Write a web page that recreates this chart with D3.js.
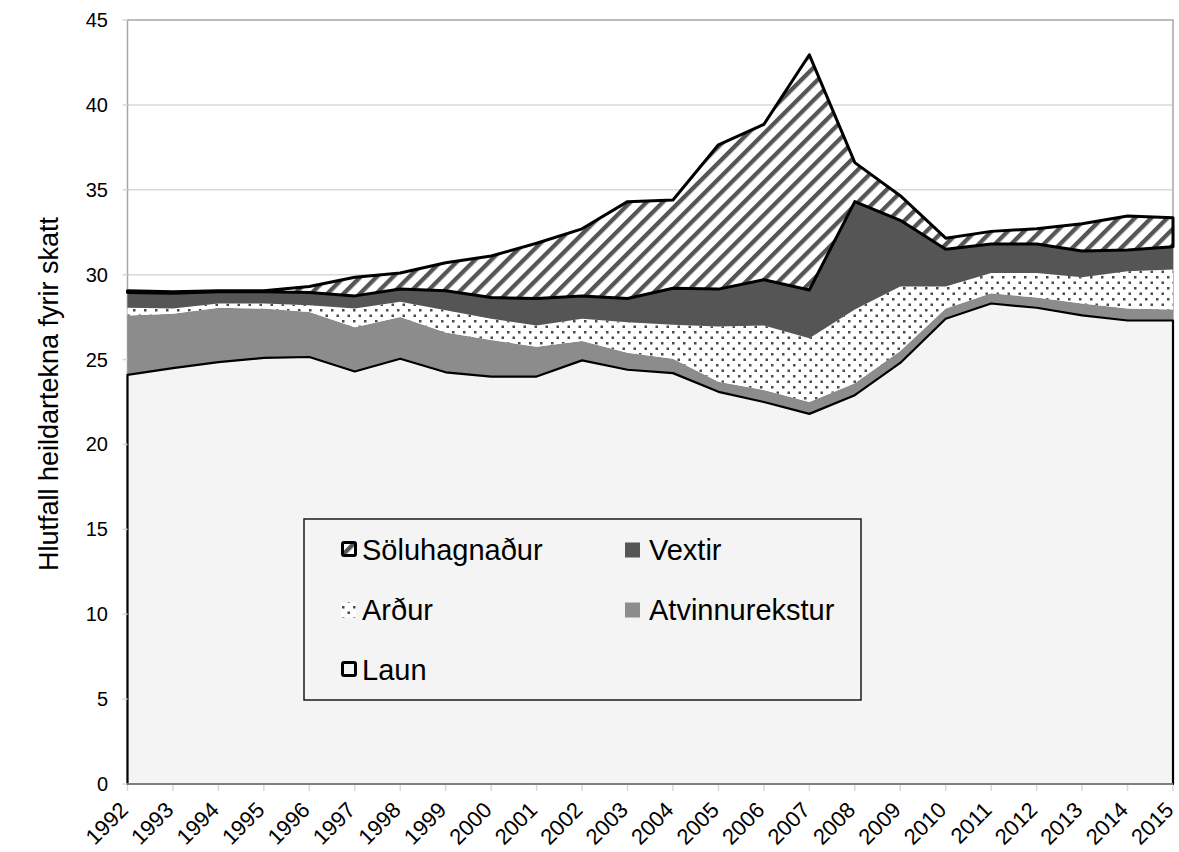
<!DOCTYPE html>
<html>
<head>
<meta charset="utf-8">
<script src="https://cdn.jsdelivr.net/npm/d3@7"></script>
<style>
  body { margin: 0; background: #fff; }
  svg text { font-family: "Liberation Sans", Arial, sans-serif; fill: #000; }
</style>
</head>
<body>
<div id="chart"></div>
<script>
var width = 1179;
var height = 852;
var marginleft = 127.5;
var marginright = 6;
var margintop = 20;
var marginbottom = 68;

// data
var years = [1992,1993,1994,1995,1996,1997,1998,1999,2000,2001,2002,2003,
             2004,2005,2006,2007,2008,2009,2010,2011,2012,2013,2014,2015];
var laun = [24.1,24.5,24.85,25.1,25.15,24.3,25.05,24.25,24.0,24.0,24.95,24.4,
            24.2,23.1,22.5,21.8,22.9,24.8,27.4,28.3,28.05,27.6,27.3,27.3];
var atvinnurekstur = [3.5,3.2,3.2,2.9,2.65,2.6,2.45,2.35,2.15,1.75,1.15,1.0,
                      0.85,0.6,0.7,0.7,0.7,0.7,0.6,0.6,0.6,0.7,0.7,0.65];
var ardur = [0.45,0.3,0.25,0.3,0.4,1.1,0.9,1.3,1.25,1.25,1.3,1.8,
             2.0,3.25,3.8,3.75,4.35,3.8,1.3,1.2,1.45,1.55,2.2,2.35];
var vextir = [0.9,0.9,0.7,0.7,0.75,0.75,0.75,1.15,1.25,1.6,1.35,1.4,
              2.15,2.2,2.7,2.85,6.35,3.9,2.2,1.7,1.7,1.55,1.25,1.35];
var soluhagnadur = [0.1,0.1,0.05,0.05,0.35,1.1,0.95,1.65,2.45,3.25,3.95,5.7,
                    5.2,8.5,9.15,13.85,2.3,1.45,0.65,0.75,0.9,1.6,2.0,1.7];
var yTicks = [0,5,10,15,20,25,30,35,40,45];
var seriesNames = ["Laun","Atvinnurekstur","Arður","Vextir","Söluhagnaður"];
var yTitle = "Hlutfall heildartekna fyrir skatt";

var rows = years.map(function(y, i) {
  return { year: y, "Laun": laun[i], "Atvinnurekstur": atvinnurekstur[i],
           "Arður": ardur[i], "Vextir": vextir[i], "Söluhagnaður": soluhagnadur[i] };
});

var svg = d3.select("#chart").append("svg")
    .attr("width", width)
    .attr("height", height);

var defs = svg.append("defs");
// diagonal stripes for Söluhagnaður
var stripes = defs.append("pattern")
    .attr("id", "stripes")
    .attr("patternUnits", "userSpaceOnUse")
    .attr("width", 11.5).attr("height", 11.5)
    .attr("patternTransform", "rotate(45)");
stripes.append("rect").attr("width", 11.5).attr("height", 11.5).attr("fill", "#fff");
stripes.append("rect").attr("width", 4.3).attr("height", 11.5).attr("fill", "#555");
// dots for Arður
var dots = defs.append("pattern")
    .attr("id", "dots")
    .attr("patternUnits", "userSpaceOnUse")
    .attr("width", 11).attr("height", 11);
dots.append("rect").attr("width", 11).attr("height", 11).attr("fill", "#fff");
dots.append("rect").attr("x", 1).attr("y", 1).attr("width", 2.5).attr("height", 2.5).attr("fill", "#4a4a4a");
dots.append("rect").attr("x", 6.5).attr("y", 6.5).attr("width", 2.5).attr("height", 2.5).attr("fill", "#4a4a4a");

var x = d3.scaleLinear()
    .domain([1992, 2015])
    .range([marginleft, width - marginright]);

var y = d3.scaleLinear()
    .domain([0, 45])
    .range([height - marginbottom, margintop]);

var fills = {
  "Laun": "#f4f4f4",
  "Atvinnurekstur": "#8c8c8c",
  "Arður": "url(#dots)",
  "Vextir": "#555555",
  "Söluhagnaður": "url(#stripes)"
};

// grid
svg.append("g")
  .selectAll("line")
  .data(yTicks.slice(1, -1))
  .enter().append("line")
    .attr("x1", x(1992)).attr("x2", x(2015))
    .attr("y1", function(d) { return y(d); })
    .attr("y2", function(d) { return y(d); })
    .attr("stroke", "#d9d9d9")
    .attr("stroke-width", 1.5);

// plot border
svg.append("rect")
    .attr("x", x(1992)).attr("y", y(45))
    .attr("width", x(2015) - x(1992)).attr("height", y(0) - y(45))
    .attr("fill", "none")
    .attr("stroke", "#a6a6a6")
    .attr("stroke-width", 1.5);

var stack = d3.stack().keys(seriesNames);
var layers = stack(rows);

var area = d3.area()
    .x(function(d) { return x(d.data.year); })
    .y0(function(d) { return y(d[0]); })
    .y1(function(d) { return y(d[1]); });

svg.append("g")
  .selectAll("path")
  .data(layers)
  .enter().append("path")
    .attr("d", area)
    .attr("fill", function(d) { return fills[d.key]; })
    .attr("stroke", "none");

// outlined series
svg.append("path")
    .datum(layers[0])
    .attr("d", area)
    .attr("fill", "none")
    .attr("stroke", "#000")
    .attr("stroke-width", 2.2)
    .attr("stroke-linejoin", "round");
svg.append("path")
    .datum(layers[4])
    .attr("d", area)
    .attr("fill", "none")
    .attr("stroke", "#000")
    .attr("stroke-width", 3)
    .attr("stroke-linejoin", "round");

// y axis labels
svg.append("g")
  .selectAll("text")
  .data(yTicks)
  .enter().append("text")
    .attr("x", 108)
    .attr("y", function(d) { return y(d); })
    .attr("dy", "0.35em")
    .attr("text-anchor", "end")
    .style("font-size", "20px")
    .text(function(d) { return d; });

svg.append("g")
  .selectAll("line")
  .data(yTicks)
  .enter().append("line")
    .attr("x1", x(1992) - 5).attr("x2", x(1992))
    .attr("y1", function(d) { return y(d); })
    .attr("y2", function(d) { return y(d); })
    .attr("stroke", "#d9d9d9")
    .attr("stroke-width", 1.5);

// x axis
svg.append("line")
    .attr("x1", x(1992)).attr("x2", x(2015))
    .attr("y1", y(0)).attr("y2", y(0))
    .attr("stroke", "#808080")
    .attr("stroke-width", 2);

svg.append("g")
  .selectAll("line")
  .data(years)
  .enter().append("line")
    .attr("x1", function(d) { return x(d); })
    .attr("x2", function(d) { return x(d); })
    .attr("y1", y(0) + 1).attr("y2", y(0) + 7)
    .attr("stroke", "#d9d9d9")
    .attr("stroke-width", 1.5);

svg.append("g")
  .selectAll("text")
  .data(years)
  .enter().append("text")
    .attr("transform", function(d) { return "translate(" + (x(d) - 3.5) + "," + (y(0) + 22) + ") rotate(-45)"; })
    .attr("dy", "0.35em")
    .attr("text-anchor", "end")
    .style("font-size", "22px")
    .text(function(d) { return d; });

// y title
svg.append("text")
    .attr("transform", "translate(58," + ((y(0) + y(45)) / 2 - 8) + ") rotate(-90)")
    .attr("text-anchor", "middle")
    .style("font-size", "27px")
    .text(yTitle);

// legend
var legend = svg.append("g");
legend.append("rect")
    .attr("x", 304).attr("y", 519)
    .attr("width", 557).attr("height", 181)
    .attr("fill", "#f4f4f4")
    .attr("stroke", "#1a1a1a")
    .attr("stroke-width", 1.5);

var legendItems = [
  { key: "Söluhagnaður", col: 0, row: 0, outline: true },
  { key: "Vextir", col: 1, row: 0, outline: false },
  { key: "Arður", col: 0, row: 1, outline: false },
  { key: "Atvinnurekstur", col: 1, row: 1, outline: false },
  { key: "Laun", col: 0, row: 2, outline: true }
];
var legendX = [341, 625];
var legendY = [550, 610, 670];

legendItems.forEach(function(it) {
  var lx = legendX[it.col], ly = legendY[it.row];
  legend.append("rect")
      .attr("x", lx + (it.outline ? 1.5 : 0)).attr("y", ly - 7.5)
      .attr("width", it.outline ? 13 : 15).attr("height", it.outline ? 13 : 15)
      .attr("rx", it.outline ? 1.5 : 0)
      .attr("fill", fills[it.key])
      .attr("stroke", it.outline ? "#000" : "none")
      .attr("stroke-width", 3);
  legend.append("text")
      .attr("x", lx + (it.col === 0 ? 21 : 24))
      .attr("y", ly)
      .attr("dy", "0.35em")
      .style("font-size", "29px")
      .text(it.key);
});
</script>
</body>
</html>
